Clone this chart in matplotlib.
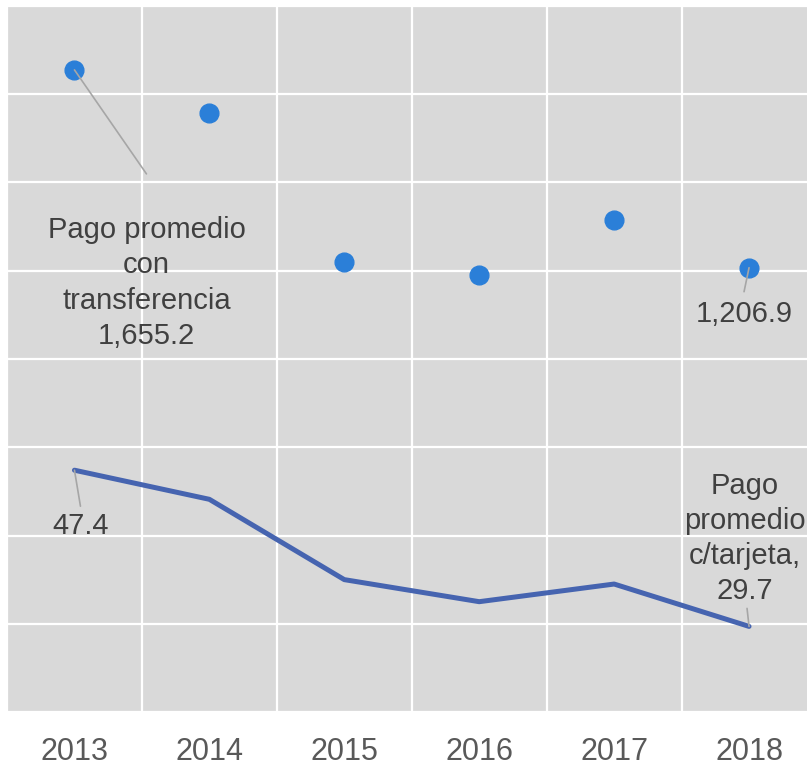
import matplotlib.pyplot as plt
import numpy as np

plt.rcParams['font.family'] = ['Liberation Sans', 'DejaVu Sans']

years = ['2013', '2014', '2015', '2016', '2017', '2018']
pago_tarjeta = [47.4, 44.1, 35.0, 32.5, 34.5, 29.7]            # line, left scale
pago_transferencia = [1655.2, 1557.5, 1220.0, 1190.0, 1315.0, 1206.9]  # dots, right scale

x = np.arange(len(years))

W, H = 807, 767
fig = plt.figure(figsize=(W / 100, H / 100), dpi=100)
fig.patch.set_facecolor('white')

# plot area runs a bit past the right edge of the picture (cropped like the original)
ax = fig.add_axes([7 / W, (H - 712) / H, 809.5 / W, 706 / H])
ax.set_facecolor('#d9d9d9')
ax.set_xlim(-0.5, 5.5)
ax.set_ylim(20, 100)
ax.set_yticks(np.arange(20, 101, 10))
ax.set_xticks(x)
ax.set_xticks(np.arange(-0.5, 6, 1), minor=True)
ax.set_xticklabels(years, fontsize=22, color='#595959')
ax.tick_params(axis='x', which='both', length=0, pad=18)
ax.tick_params(axis='y', length=0, labelleft=False)
ax.grid(axis='y', color='white', lw=1.6)
ax.grid(axis='x', which='minor', color='white', lw=1.6)
ax.set_axisbelow(True)
for s in ax.spines.values():
    s.set_visible(False)

ax2 = ax.twinx()
ax2.set_ylim(200, 1800)
ax2.set_yticks([])
for s in ax2.spines.values():
    s.set_visible(False)

# series
ax.plot(x, pago_tarjeta, color='#4664b0', lw=3.6, solid_capstyle='round', zorder=3)
ax2.plot(x, pago_transferencia, 'o', color='#2b7fd8', ms=13.5, zorder=3)

lead = dict(arrowstyle='-', color='#a6a6a6', lw=1.2, shrinkA=0, shrinkB=0)
txt = dict(textcoords='offset pixels', ha='center', va='center', linespacing=1.33,
           fontsize=21, color='#404040', annotation_clip=False)

def label(axis, i, vals, text, lead_off, text_off):
    axis.annotate('', xy=(x[i], vals[i]), xytext=lead_off,
                  textcoords='offset pixels', arrowprops=lead)
    axis.annotate(text, xy=(x[i], vals[i]), xytext=text_off, **txt)

label(ax2, 0, pago_transferencia,
      'Pago promedio\ncon\ntransferencia\n{:,.1f}'.format(pago_transferencia[0]),
      (72, -104), (72, -213))
label(ax2, 5, pago_transferencia, '{:,.1f}'.format(pago_transferencia[5]),
      (-5, -24), (-5, -46))
label(ax, 0, pago_tarjeta, '{:,.1f}'.format(pago_tarjeta[0]),
      (6, -36), (6, -56))
label(ax, 5, pago_tarjeta,
      'Pago\npromedio\nc/tarjeta,\n{:,.1f}'.format(pago_tarjeta[5]),
      (-2, 18), (-4, 88))

fig.savefig('out.png', dpi=100)
